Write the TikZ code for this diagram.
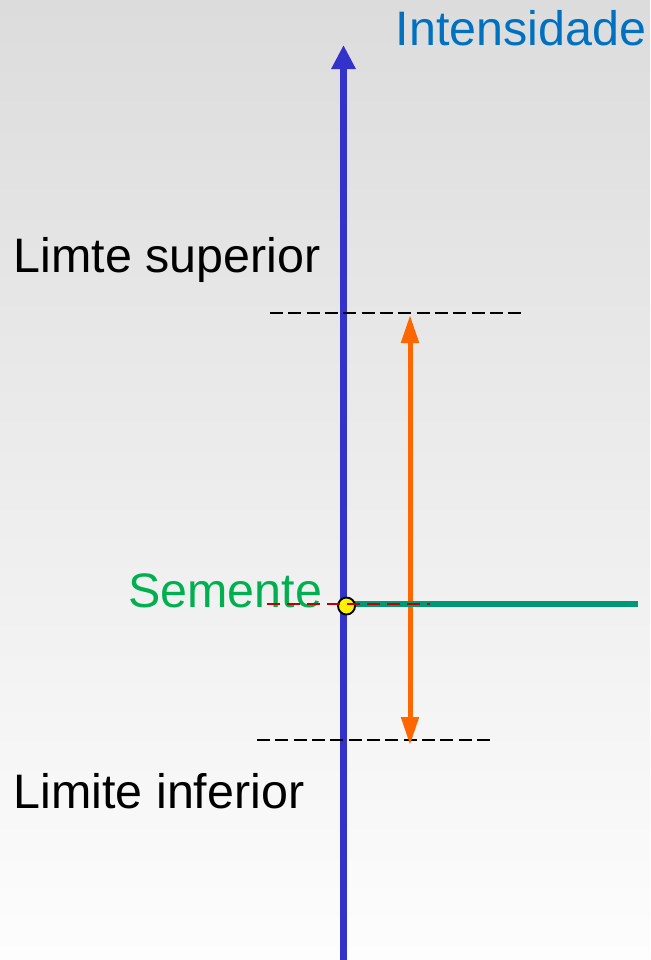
\documentclass[tikz,border=0pt]{standalone}
\usepackage{fontspec}
\setmainfont{Liberation Sans}
\usepackage{tikz}
\usetikzlibrary{arrows.meta}
\definecolor{axisblue}{RGB}{51,51,204}
\definecolor{titleblue}{RGB}{0,112,192}
\definecolor{seedgreen}{RGB}{0,176,80}
\definecolor{linegreen}{RGB}{0,153,115}
\definecolor{rangeorange}{RGB}{255,102,0}
\definecolor{seedred}{RGB}{192,0,0}
\tikzset{
  label/.style={anchor=base west, inner sep=0pt, font=\fontsize{36.3pt}{40pt}\selectfont},
  limitline/.style={black, line width=1.9pt, dash pattern=on 9.75pt off 4pt},
}

\begin{document}
\begin{tikzpicture}[x=0.75pt, y=-0.75pt]
  % Background
  \shade[top color={rgb,255:red,220;green,220;blue,220}, bottom color={rgb,255:red,253;green,253;blue,253}]
    (0,0) rectangle (650,960);
  \useasboundingbox (0,0) rectangle (650,960);

  % Intensity axis
  \coordinate (axisbot) at (343.5,960);
  \coordinate (axistop) at (343.5,45);
  \draw[axisblue, line width=5.25pt, -{Triangle[length=18pt, width=17.25pt]}] (axisbot) -- (axistop);
  \node[label, text=titleblue] (title) at (395.5,45) {Intensidade};

  % Upper and lower limits
  \coordinate (upa) at (270,313);
  \coordinate (upb) at (525,313);
  \coordinate (loa) at (257,740);
  \coordinate (lob) at (493,740);
  \draw[limitline] (upa) -- (upb);
  \draw[limitline] (loa) -- (lob);
  \node[label] (upper) at (13.5,272) {Limte superior};
  \node[label] (lower) at (13.5,808) {Limite inferior};

  % Range arrow
  \coordinate (rangetop) at (410,315);
  \coordinate (rangebot) at (410,745);
  \draw[rangeorange, line width=3.75pt, {Triangle[length=21pt, width=12.75pt]}-{Triangle[length=21pt, width=12.75pt]}]
    (rangetop) -- (rangebot);

  % Seed level
  \node[label, text=seedgreen] (seedlabel) at (128,607) {Semente};
  \coordinate (seedstart) at (346,604);
  \coordinate (seedend) at (638,604);
  \coordinate (reda) at (267,604);
  \coordinate (redb) at (430,604);
  \draw[linegreen, line width=4.5pt] (seedstart) -- (seedend);
  \node[circle, draw=black, fill=yellow, line width=1.4pt, minimum size=12.75pt, inner sep=0pt] (seed) at (346.5,606) {};
  \draw[seedred, line width=1.8pt, dash pattern=on 9.75pt off 5.25pt] (reda) -- (redb);
\end{tikzpicture}
\end{document}
